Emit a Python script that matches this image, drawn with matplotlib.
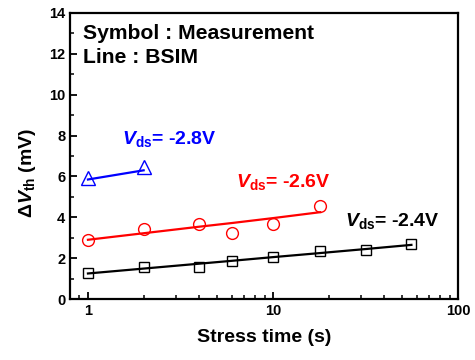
import matplotlib
matplotlib.use('Agg')
import matplotlib.pyplot as plt
import numpy as np
from matplotlib.ticker import LogLocator, FixedLocator, NullFormatter

plt.rcParams['font.family'] = ['Liberation Sans', 'DejaVu Sans']
plt.rcParams['font.weight'] = 'bold'
plt.rcParams['mathtext.fontset'] = 'custom'
plt.rcParams['mathtext.rm'] = 'Liberation Sans:bold'
plt.rcParams['mathtext.it'] = 'Liberation Sans:italic:bold'
plt.rcParams['mathtext.bf'] = 'Liberation Sans:bold'

# measured shifts (symbols)
t_24 = [1, 2, 4, 6, 10, 18, 32, 56]
dv_24 = [1.25, 1.55, 1.58, 1.86, 2.04, 2.35, 2.40, 2.68]
t_26 = [1, 2, 4, 6, 10, 18]
dv_26 = [2.89, 3.43, 3.66, 3.22, 3.68, 4.56]
t_28 = [1, 2]
dv_28 = [5.90, 6.45]

# BSIM curves (lines)
bsim_24 = [1.25, 1.49, 1.73, 1.87, 2.05, 2.25, 2.45, 2.65]
bsim_26 = [2.90, 3.22, 3.54, 3.72, 3.96, 4.25]
bsim_28 = [5.85, 6.30]

fig = plt.figure(figsize=(4.75, 3.6), dpi=100)
ax = fig.add_axes([0.1474, 0.1694, 0.8168, 0.7945])

ax.plot(t_24, bsim_24, color='black', lw=1.6, zorder=2)
ax.plot(t_26, bsim_26, color='#ff0000', lw=1.6, zorder=2)
ax.plot(t_28, bsim_28, color='#0000ff', lw=1.6, zorder=2)

ax.plot(t_24, dv_24, ls='none', marker='s', ms=7.5, mfc='none', mec='black', mew=1.0, zorder=3)
ax.plot(t_26, dv_26, ls='none', marker='o', ms=8.5, mfc='none', mec='#ff0000', mew=1.0, zorder=3)
ax.plot(t_28, dv_28, ls='none', marker='^', ms=10.5, mfc='none', mec='#0000ff', mew=1.0, zorder=3)

ax.set_xscale('log')
ax.set_xlim(0.8, 100)
ax.set_ylim(0, 14)
ax.xaxis.set_major_locator(FixedLocator([1, 10, 100]))
ax.set_xticklabels(['1', '10', '100'])
ax.xaxis.set_minor_locator(LogLocator(base=10, subs=np.arange(2, 10)))
ax.xaxis.set_minor_formatter(NullFormatter())
ax.set_yticks(np.arange(0, 15, 2))
ax.yaxis.set_minor_locator(FixedLocator(np.arange(1, 14, 2)))

ax.tick_params(which='both', direction='in', top=False, right=False, labelsize=10.5)
ax.tick_params(which='major', length=5, width=1.3)
ax.tick_params(which='minor', length=3, width=1.1)
for lab in ax.get_xticklabels() + ax.get_yticklabels():
    lab.set_fontweight('bold')
for sp in ax.spines.values():
    sp.set_linewidth(1.6)

ax.set_xlabel('Stress time (s)', fontsize=14, fontweight='bold', labelpad=8)
ax.set_ylabel(r'$\Delta\mathit{V}_{\mathrm{th}}$ (mV)', fontsize=14, fontweight='bold')
ax.yaxis.set_label_coords(-0.082, 0.44)

ax.text(0.033, 0.93, 'Symbol : Measurement', transform=ax.transAxes, fontsize=15.2,
        fontweight='bold', va='center', ha='left')
ax.text(0.033, 0.843, 'Line : BSIM', transform=ax.transAxes, fontsize=15.2,
        fontweight='bold', va='center', ha='left')

ax.text(1.53, 7.6, r'$\mathit{V}_{\mathrm{ds}}$= -2.8V', color='#0000ff', fontsize=14,
        fontweight='bold', va='baseline', ha='left')
ax.text(6.3, 5.5, r'$\mathit{V}_{\mathrm{ds}}$= -2.6V', color='#ff0000', fontsize=14,
        fontweight='bold', va='baseline', ha='left')
ax.text(24.5, 3.55, r'$\mathit{V}_{\mathrm{ds}}$= -2.4V', color='black', fontsize=14,
        fontweight='bold', va='baseline', ha='left')

fig.savefig('out.png', dpi=100)
